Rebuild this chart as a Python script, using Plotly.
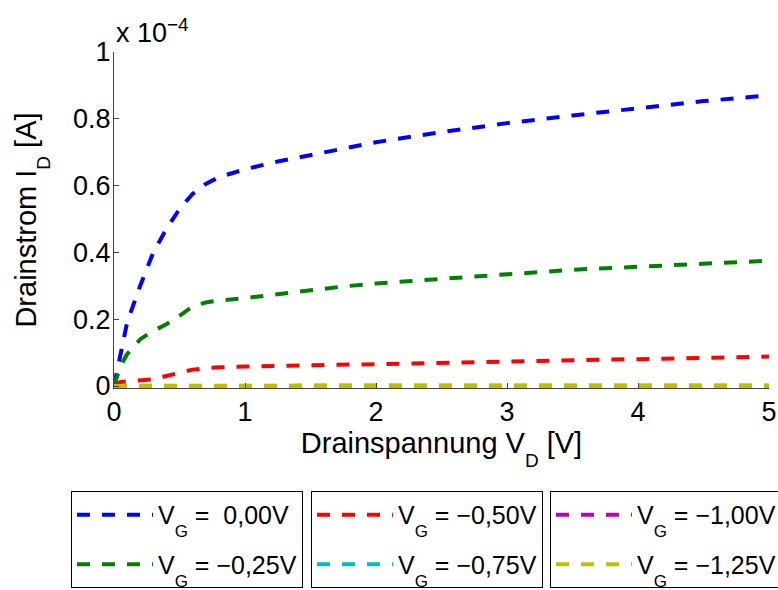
import plotly.graph_objects as go

# Drain voltage sweep [V]
VD = [0, 0.05, 0.1, 0.2, 0.3, 0.4, 0.5, 0.6, 0.7, 0.8, 1.0, 1.25, 1.5,
      1.75, 2.0, 2.5, 3.0, 3.5, 4.0, 4.5, 5.0]

# Drain current in units of 1e-4 A, one list per gate voltage
ID_0_00 = [0, 0.10, 0.19, 0.30, 0.40, 0.47, 0.53, 0.575, 0.605, 0.625, 0.649,
           0.672, 0.692, 0.711, 0.73, 0.76, 0.787, 0.81, 0.833, 0.853, 0.87]
ID_0_25 = [0, 0.06, 0.095, 0.14, 0.165, 0.185, 0.21, 0.238, 0.25, 0.256, 0.263,
           0.275, 0.286, 0.298, 0.307, 0.321, 0.336, 0.348, 0.357, 0.366, 0.375]
ID_0_50 = [0, 0.012, 0.014, 0.017, 0.02, 0.03, 0.04, 0.049, 0.053, 0.056, 0.058,
           0.06, 0.062, 0.065, 0.067, 0.071, 0.075, 0.079, 0.082, 0.085, 0.088]
ID_0_75 = [0, 0.0005, 0.0006, 0.0007, 0.0008, 0.0009, 0.001, 0.0011, 0.0012, 0.0012,
           0.0013, 0.0013, 0.0014, 0.0014, 0.0015, 0.0015, 0.0016, 0.0016, 0.0017,
           0.0017, 0.0018]
ID_1_00 = [0, 0.0001, 0.0001, 0.0001, 0.0001, 0.0001, 0.0002, 0.0002, 0.0002, 0.0002,
           0.0002, 0.0002, 0.0002, 0.0002, 0.0002, 0.0002, 0.0002, 0.0002, 0.0002,
           0.0002, 0.0002]
ID_1_25 = [0] * len(VD)

GATE_LABELS = ["\u00a00,00V", "\u22120,25V", "\u22120,50V",
               "\u22120,75V", "\u22121,00V", "\u22121,25V"]
COLORS = ["#0000ff", "#008000", "#ff0000", "#00bfbf", "#bf00bf", "#bfbf00"]
LEGENDS = ["legend", "legend", "legend2", "legend2", "legend3", "legend3"]
SERIES = [ID_0_00, ID_0_25, ID_0_50, ID_0_75, ID_1_00, ID_1_25]

FONT = "Liberation Sans, Arial, Helvetica, sans-serif"
TICK_SIZE = 27
TITLE_SIZE = 29
LEGEND_SIZE = 25


def sub(txt, size, shift):
    """Subscript drawn as a smaller, lowered span."""
    return (f'<span style="font-size:{size}px;baseline-shift:-{shift}px">'
            f'{txt}</span>')


fig = go.Figure()
for i, (ys, gl, col, lg) in enumerate(zip(SERIES, GATE_LABELS, COLORS, LEGENDS)):
    fig.add_trace(go.Scatter(
        x=VD, y=ys, mode="lines", name="V" + sub("G", 17, 13) + " = " + gl,
        legend=lg, legendgroup=str(i),
        line=dict(color=col, width=4, dash="13px,12px"),
    ))

axis_common = dict(
    showgrid=False, zeroline=False, showline=True, linecolor="#444444",
    linewidth=1, ticks="inside", ticklen=5, tickcolor="#444444",
    tickfont=dict(family=FONT, size=TICK_SIZE, color="black"),
)

fig.update_layout(
    width=778, height=590,
    plot_bgcolor="white", paper_bgcolor="white",
    margin=dict(l=114, r=9, t=52, b=202, autoexpand=False),
    font=dict(family=FONT, size=TICK_SIZE, color="black"),
    xaxis=dict(range=[0, 5], dtick=1,
               title=dict(text="Drainspannung V" + sub("D", 19, 14) + " [V]",
                          standoff=0, font=dict(size=TITLE_SIZE)),
               **axis_common),
    yaxis=dict(range=[-0.006, 1], tickvals=[0, 0.2, 0.4, 0.6, 0.8, 1],
               ticktext=["0", "0.2", "0.4", "0.6", "0.8", "1"],
               ticklabelstandoff=-3,
               title=dict(text="Drainstrom I" + sub("D", 19, 14) + " [A]",
                          standoff=27, font=dict(size=TITLE_SIZE)),
               **axis_common),
    showlegend=True,
)

legend_common = dict(
    yanchor="top", xanchor="left", y=-0.3065,
    bordercolor="black", borderwidth=1, bgcolor="white",
    font=dict(family=FONT, size=LEGEND_SIZE, color="black"),
    itemwidth=76, tracegroupgap=14, traceorder="grouped",
)
fig.update_layout(
    legend=dict(x=(71 - 114) / 655, **legend_common),
    legend2=dict(x=(311 - 114) / 655, **legend_common),
    legend3=dict(x=(550 - 114) / 655, **legend_common),
)

fig.add_annotation(
    text="x 10<sup>\u22124</sup>", xref="paper", yref="paper",
    x=0, y=1, xanchor="left", yanchor="bottom", yshift=2, showarrow=False,
    font=dict(family=FONT, size=TICK_SIZE, color="black"),
)

fig.write_html("out.html")
